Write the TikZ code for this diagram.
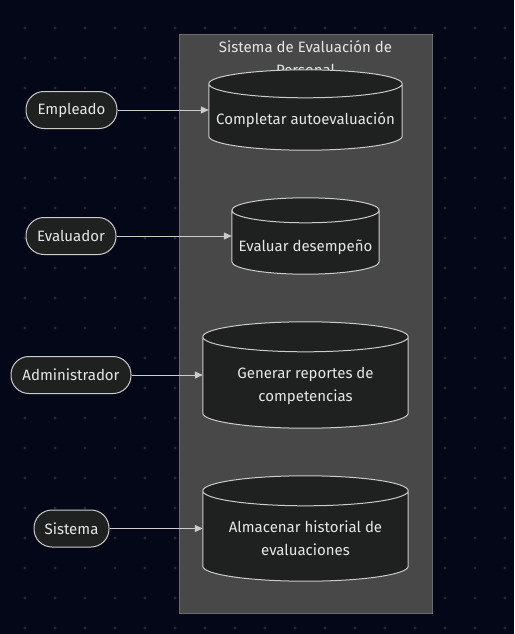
\documentclass[tikz,border=0pt]{standalone}
\usepackage{fontspec}
\setmainfont{Fira Sans}
\usetikzlibrary{arrows.meta,calc}

\definecolor{pagebg}{RGB}{3,7,24}
\definecolor{gridc}{RGB}{36,40,54}
\definecolor{clusterbg}{RGB}{71,72,71}
\definecolor{clusterln}{RGB}{104,108,112}
\definecolor{nodebg}{RGB}{31,32,32}
\definecolor{nodeln}{RGB}{204,204,204}
\definecolor{txt}{RGB}{230,230,230}

% cylinder drawn round the box of node #1, ends of half height #2
\newcommand\cylpath[2]{%
  \path[cyl] let \p1=(#1.north west), \p2=(#1.south east), \n1={(\x2-\x1)/2} in
    (\x1,\y1-#2) -- (\x1,\y2+#2) arc[start angle=180, end angle=360, x radius=\n1, y radius=#2]
    -- (\x2,\y1-#2) arc[start angle=0, end angle=180, x radius=\n1, y radius=#2] -- cycle
    (\x1,\y1-#2) arc[start angle=180, end angle=360, x radius=\n1, y radius=#2];
}

\begin{document}
\begin{tikzpicture}[
  x=1pt, y=-1pt,
  >={Triangle[length=8pt,width=7pt]},
  font=\fontsize{15}{23}\selectfont,
  actor/.style={rectangle,rounded corners=18pt,draw=nodeln,line width=1pt,fill=nodebg,text=txt,minimum height=37pt,inner sep=0},
  cylbox/.style={rectangle,inner sep=0},
  cyl/.style={draw=nodeln,line width=1pt,fill=nodebg},
  cyltxt/.style={text=txt,align=center,inner sep=0},
  flow/.style={->,draw=nodeln,fill=nodeln,line width=1pt},
]
  \useasboundingbox[fill=pagebg] (0,0) rectangle (514,634);
  \foreach \i in {0,...,16}
    \foreach \j in {0,...,20}
      \fill[gridc] (25+30*\i,28+30*\j) circle[radius=1.7pt];

  % subgraph
  \draw[fill=clusterbg, draw=clusterln, line width=1pt] (179,35) rectangle (432,613);
  \node[text=txt, align=center, inner sep=0] (title) at (305.5,58.5) {Sistema de Evaluación de\\Personal};

  \foreach \name/\cx/\cy/\w/\h/\ry/\ty/\lab in {%
      c1/305.5/110/193/80/14pt/120/{Completar autoevaluación},
      c2/305.5/236/147/76/12.5pt/247/{Evaluar desempeño},
      c3/305.5/375/205/106/15pt/385.5/{Generar reportes de\\competencias},
      c4/305.5/528.5/205/105/15pt/538.5/{Almacenar historial de\\evaluaciones}}
  {
    \node[cylbox, minimum width=\w, minimum height=\h] (\name) at (\cx,\cy) {};
    \cylpath{\name}{\ry}
    \node[cyltxt] (\name t) at (\cx,\ty) {\lab};
  }

  \foreach \name/\x/\y/\w/\lab in {a1/71.5/110/91/Empleado, a2/71/236/90/Evaluador, a3/71/375/120/Administrador, a4/71.5/528.5/75/Sistema}
    \node[actor, minimum width=\w] (\name) at (\x,\y) {\lab};

  \foreach \from/\to in {a1/c1, a2/c2, a3/c3, a4/c4}
    \draw[flow] (\from.east) -- (\to.west);
\end{tikzpicture}
\end{document}
